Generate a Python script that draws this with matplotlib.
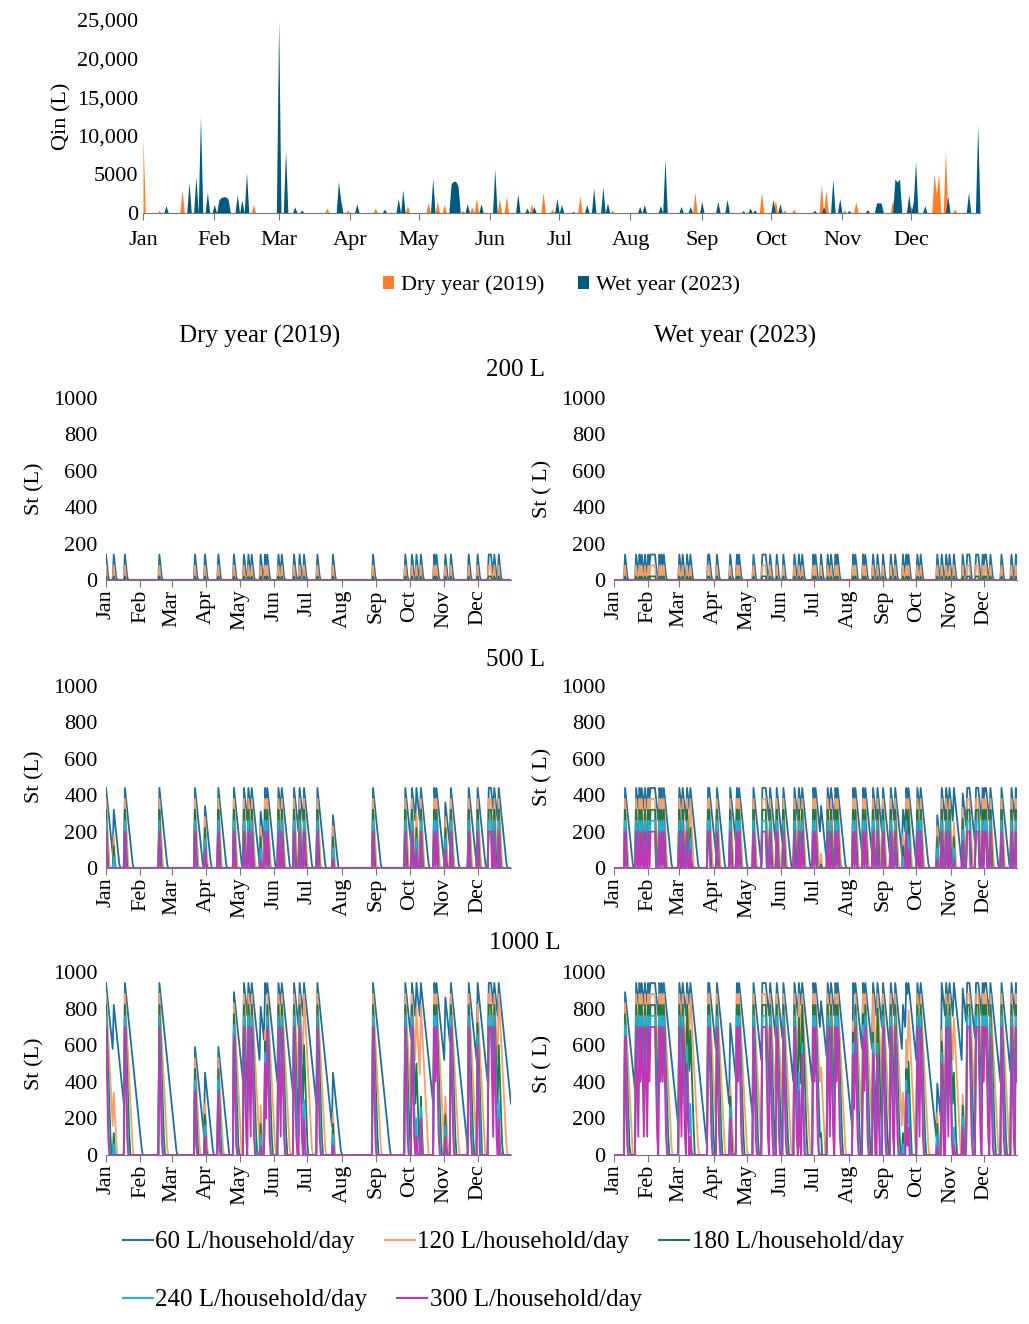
import matplotlib.pyplot as plt
import numpy as np

plt.rcParams['font.family'] = ['Liberation Serif', 'DejaVu Serif']

months = ["Jan", "Feb", "Mar", "Apr", "May", "Jun", "Jul", "Aug", "Sep", "Oct", "Nov", "Dec"]
month_start = [0, 31, 59, 90, 120, 151, 181, 212, 243, 273, 304, 334]

# daily roof inflow (L) as (day of year, value) events
dry_days = [0, 7, 17, 48, 80, 89, 101, 115, 124, 128, 131, 139, 143, 145, 155, 158, 169, 174, 178,
            190, 204, 240, 269, 275, 279, 283, 295, 297, 305, 310, 326, 334, 344, 345, 346, 349, 353]
dry_q = [9900, 300, 3000, 1100, 650, 400, 650, 950, 1400, 1500, 1100, 350, 800, 1900, 1800, 2200, 1200, 2700, 500,
         2250, 350, 2700, 2700, 1700, 400, 500, 3700, 3000, 400, 1500, 1700, 900, 5100, 2500, 5100, 8000, 500]
wet_days = [10, 20, 23, 25, 28, 31, 33, 34, 35, 36, 37, 41, 43, 45, 59, 62, 66, 69, 85, 86, 93, 105, 111, 113,
            126, 134, 135, 136, 137, 141, 147, 153, 163, 167, 170, 180, 182, 187, 193, 196, 200, 202, 216, 218,
            225, 227, 234, 238, 243, 250, 254, 261, 264, 266, 274, 277, 292, 296, 300, 303, 307, 315, 319, 320,
            321, 327, 328, 329, 333, 335, 336, 340, 350, 359, 363]
wet_q = [950, 4000, 4750, 12500, 2700, 1100, 1700, 2000, 2100, 2100, 1800, 2400, 1700, 5300, 25000, 8200, 800, 400,
         4100, 1600, 1200, 500, 1900, 3000, 4500, 3800, 4100, 4100, 3500, 1200, 1200, 5700, 2500, 650, 850, 1900,
         1100, 200, 1100, 3200, 3400, 1300, 850, 1100, 950, 7000, 850, 850, 1500, 1500, 1800, 300, 650, 400, 1800,
         1200, 350, 800, 4400, 1900, 350, 450, 1300, 1300, 1300, 4400, 4000, 4400, 2400, 1500, 6700, 950, 2200,
         2700, 11500]

tanks = [200, 500, 1000]
demands = [60, 120, 180, 240, 300]
demand_labels = ["60 L/household/day", "120 L/household/day", "180 L/household/day",
                 "240 L/household/day", "300 L/household/day"]
demand_colors = ["#1f6f9c", "#f5a06a", "#1d7a45", "#1cb3e3", "#c236b4"]


def daily(days, q):
    arr = np.zeros(365)
    arr[days] = q
    return arr


def storage(inflow, cap, demand):
    s = np.zeros(len(inflow))
    prev = 0.0
    for i, q in enumerate(inflow):
        prev = max(0.0, min(prev + q, cap) - demand)
        s[i] = prev
    return s


dry = daily(dry_days, dry_q)
wet = daily(wet_days, wet_q)
t = np.arange(365)

W, H = 1029, 1324
fig = plt.figure(figsize=(W / 100, H / 100), dpi=100)


def box(l, r, top, bot):
    return [l / W, 1 - bot / H, (r - l) / W, (bot - top) / H]


###############top inflow chart################
ax = fig.add_axes(box(143, 980, 20, 213))
ax.fill_between(t, dry, color="#ff7f2a", lw=0, label="Dry year (2019)")
ax.fill_between(t, wet, color="#005a7d", lw=0, label="Wet year (2023)")
ax.set_xlim(0, 364)
ax.set_ylim(0, 25000)
ax.set_yticks([0, 5000, 10000, 15000, 20000, 25000])
ax.set_yticklabels(["0", "5000", "10,000", "15,000", "20,000", "25,000"], fontsize=16)
ax.set_xticks(month_start)
ax.set_xticklabels(months, fontsize=16)
ax.tick_params(axis="y", length=0)
ax.tick_params(axis="x", length=5, color="#777777", pad=8)
for sp in ["top", "right", "left"]:
    ax.spines[sp].set_visible(False)
ax.spines["bottom"].set_color("#777777")
ax.set_ylabel("Qin (L)", fontsize=16)
ax.legend(loc="upper center", bbox_to_anchor=(0.5, -0.22), ncol=2, frameon=False, fontsize=16,
          handlelength=0.5, handleheight=0.5, handletextpad=0.3, columnspacing=1.5)

fig.text(260 / W, 1 - 336 / H, "Dry year (2019)", fontsize=18, ha="center", va="center")
fig.text(735 / W, 1 - 336 / H, "Wet year (2023)", fontsize=18, ha="center", va="center")

###############storage panels################
rows = [(398, 580, 370), (686, 868, 660), (972, 1155, 943)]
cols = [(106, 511, dry, "St (L)"), (614, 1017, wet, "St ( L)")]
for cap, (top, bot, ty) in zip(tanks, rows):
    fig.text(515 / W if cap != 1000 else 525 / W, 1 - ty / H, f"{cap} L", fontsize=18, ha="center", va="center")
    for l, r, inflow, ylab in cols:
        a = fig.add_axes(box(l, r, top, bot))
        for d, c in zip(demands, demand_colors):
            a.plot(t, storage(inflow, cap, d), color=c, lw=1.3)
        a.set_xlim(0, 364)
        a.set_ylim(0, 1000)
        a.set_yticks(range(0, 1001, 200))
        a.tick_params(axis="y", length=0, labelsize=16, pad=6)
        a.set_xticks(month_start)
        a.set_xticklabels(months, rotation=90, fontsize=16)
        a.tick_params(axis="x", length=5, color="#777777", pad=2)
        for sp in ["top", "right", "left"]:
            a.spines[sp].set_visible(False)
        a.spines["bottom"].set_color("#777777")
        a.set_ylabel(ylab, fontsize=16, labelpad=6)

###############bottom legend################
handles = [plt.Line2D([], [], color=c, lw=1.5) for c in demand_colors]
fig.legend(handles[:3], demand_labels[:3], loc="center left", bbox_to_anchor=(100 / W, 1 - 1242 / H),
           ncol=3, frameon=False, fontsize=18, handlelength=1.2, handletextpad=0.1, columnspacing=1.2)
fig.legend(handles[3:], demand_labels[3:], loc="center left", bbox_to_anchor=(100 / W, 1 - 1300 / H),
           ncol=2, frameon=False, fontsize=18, handlelength=1.2, handletextpad=0.1, columnspacing=1.2)

fig.savefig("out.png", dpi=100)
